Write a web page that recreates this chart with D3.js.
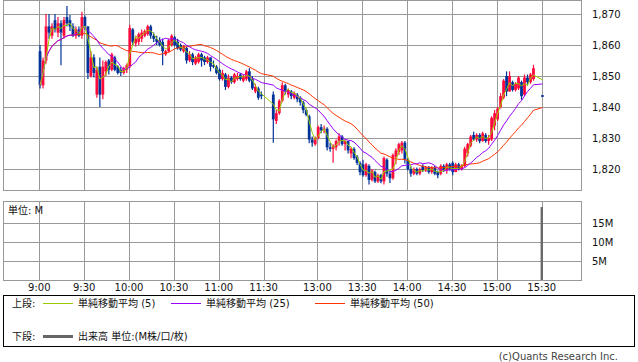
<!DOCTYPE html>
<html><head><meta charset="utf-8">
<script src="https://cdn.jsdelivr.net/npm/d3@7"></script>
<style>
body{margin:0;background:#fff}
svg{display:block}
text{font-family:"DejaVu Sans","Noto Sans CJK JP",sans-serif;font-size:10px;fill:#111}
</style></head><body>
<svg id="c" width="638" height="362"></svg>
<script>
// ---- data (2-minute bars, minutes since midnight) ----
const barTimes = [...d3.range(540, 690, 2), ...d3.range(750, 926, 2), 930];
const opens = [
1858,1847,1855,1866,1863,1868,1864,1867,1863,1869,
1868,1866,1863,1865,1863,1869,1866,1850,1856,1844,
1853,1844,1851.5,1855,1852,1856,1853,1852,1851,1852,
1853,1865,1860.5,1861,1862,1863,1863.5,1866,1863,1862,
1861.5,1861,1857,1858,1860,1862.5,1861,1860,1858,1859,
1855,1857,1854,1854.5,1857,1856,1854.5,1856,1853.5,1853,
1852,1849,1850.5,1846.5,1849.5,1848,1849,1850.5,1848.5,1849,
1851.5,1849,1845,1846,1844,
1844,1835.5,1838,1842,1847,1844,1845,1843,1844,1843,
1841.5,1839,1837,1829.5,1828,1830,1833.5,1832.5,1833,1827,
1826.5,1827,1829,1830.5,1828,1829,1825,1826.5,1824,1822,
1821.5,1818,1821,1816.5,1819,1816,1818,1816,1823,1818.5,
1817,1824,1825.5,1826,1828.5,1823,1820,1818.5,1820,1818.5,
1821,1819.5,1820.5,1819,1820.5,1819,1818.5,1821,1819.5,1821.5,
1822,1819,1821.5,1820,1821,1825,1827.5,1831,1829.5,1831,
1829,1831,1829,1829.5,1834,1836,1840,1843,1850,1845,
1848,1845.5,1846,1848,1844,1849.5,1848,1849,
1843.8];
const highs = [
1860,1856,1870,1870,1867,1870,1869,1868,1869,1872.6,
1869.7,1867,1866,1866,1870.7,1869.5,1866,1858,1857,1853,
1856,1855,1855,1855.5,1857.5,1856.5,1853.5,1853,1853,1854,
1866.5,1865.5,1863,1864,1865,1865,1866.5,1866.5,1864,1863,
1862.5,1862,1858.5,1862,1863.5,1863,1862,1860.5,1860,1859.5,
1858,1857.5,1856.5,1857.5,1857.5,1856.5,1856.5,1856,1855,1853.5,
1852.5,1852,1851,1850.5,1850,1851,1851,1851,1850.5,1852,
1852.5,1850,1847.5,1846.5,1845,
1845,1839,1842.5,1848,1847.5,1846,1845.5,1845,1844.5,1843.5,
1842,1839.5,1837.5,1830.5,1830.5,1834,1834.5,1834,1833.5,1828.5,
1828,1829.5,1831.5,1831,1829.5,1829,1827,1827,1824.5,1822.5,
1823,1822,1821.5,1820,1819.5,1818.5,1818.5,1824,1823.5,1819.5,
1825,1826.7,1828.5,1829,1829,1823.5,1821,1820.5,1820.5,1820.5,
1821.5,1821,1821,1821,1821,1819.5,1821.5,1821.5,1822,1822,
1822.5,1822,1822,1821.5,1827.2,1828.5,1831,1832,1831.5,1831.5,
1832,1831.5,1831,1837,1839,1840,1844.5,1849,1851.5,1851.5,
1848.5,1848,1850,1848.5,1850.5,1850.5,1851,1853.6,
1843.8];
const lows = [
1846,1846,1854,1862,1862,1864,1862.5,1853.5,1862,1866,
1864.5,1862.6,1862,1862.5,1862,1865,1849,1849.5,1849.5,1843,
1840,1842.5,1850,1850.5,1851.5,1851.5,1850.5,1850,1850.5,1851,
1852.5,1860,1859.5,1860,1861,1862.5,1863,1862,1861,1860,
1859.5,1853.5,1856.5,1857.5,1859.5,1859.5,1858.5,1858,1857.5,1854,
1854.5,1853.5,1853.5,1854,1853,1853.5,1854,1851.5,1852.5,1850.5,
1848.5,1848.5,1845.5,1846,1847.5,1847.5,1848.5,1848.5,1848,1848.5,
1848,1845.5,1844.4,1842.3,1842.5,
1828.5,1834.5,1837.5,1841.5,1844,1843,1842.5,1842.5,1841.5,1840.5,
1838,1837,1828.3,1827.2,1827.5,1829.5,1831.5,1831.5,1826,1825.6,
1822,1826,1827.5,1827.5,1826,1825,1823.5,1823,1821.3,1818,
1817.5,1817.5,1815,1816,1815.5,1815.5,1815.4,1815,1817.5,1815.5,
1816.5,1821.5,1824.5,1825,1821.8,1819.5,1817.5,1818,1818,1818,
1819,1819,1818.5,1818.5,1818,1817,1818,1819,1818.5,1819.5,
1818,1819,1819.5,1819.5,1820.5,1824,1827,1829,1828.8,1828.3,
1828.8,1828.5,1827.8,1829,1832.5,1835.5,1839.5,1842.5,1843.5,1845,
1845,1845,1845.5,1842.3,1843.5,1847,1847.5,1848.5,
1843.3];
const closes = [
1847,1855,1866,1864,1866,1865,1867,1864,1868,1867,
1866,1863,1865,1863,1869,1866,1851,1856,1851,1852,
1844,1853,1854.5,1852,1857,1852,1851,1851,1852.5,1853.5,
1865.5,1861,1862,1863.5,1864,1864.5,1866,1863,1862,1861,
1860,1858,1858,1861.5,1863,1860,1859,1858.5,1859.5,1855,
1857,1854.5,1856,1857,1855,1854.5,1856,1853,1853,1851,
1849,1851,1846.5,1849.5,1848,1850.5,1850,1849,1850,1851.5,
1848.5,1846,1846.5,1843,1843.5,
1836,1838,1842,1847,1845,1845.5,1843.5,1844.5,1842.5,1841.5,
1839,1837.5,1829.5,1828.5,1830,1833.5,1832.5,1833,1827,1826.5,
1827.5,1829,1830.5,1828,1829,1826,1826.5,1823.5,1822,1819,
1818,1821.5,1816.5,1819.5,1816,1818,1816,1823.5,1818.5,1817,
1824.5,1826,1828,1828.5,1823,1820,1818.5,1820,1818.5,1820,
1819.5,1820.5,1819,1820.5,1818.5,1818,1821,1819.5,1821.5,1820,
1819,1821.5,1820,1821,1826.5,1828,1830.5,1829.5,1831,1829,
1831.5,1829,1830,1836.5,1838,1839.5,1843.5,1848.5,1845,1850,
1845.5,1847.5,1849.5,1843.5,1849.5,1848,1850.5,1852.5,
1843.3];
const volTimes = [930];
const volValues = [19.3]; // M
const maPeriods = [5, 25, 50]; // minutes
const maColors = ["#99cc00", "#9900ff", "#ff3300"];
const priceTicks = [1820, 1830, 1840, 1850, 1860, 1870];
const volTicks = [5, 10, 15];
const timeTicks = [540, 570, 600, 630, 660, 690, 780, 810, 840, 870, 900, 930];

// ---- helpers ----
const sess = t => t <= 690 ? t - 540 : t - 750 + 156;
const fmtTime = t => Math.floor(t / 60) + ":" + String(t % 60).padStart(2, "0");
const svg = d3.select("#c");
const x = d3.scaleLinear().domain([0, 336]).range([39.3, 541.7]);
const y = d3.scaleLinear().domain([1820, 1870]).range([169, 14]);
const yv = d3.scaleLinear().domain([0, 20]).range([280, 204.4]);
const L = 3.5, R = 581.5;
const grid = "#999";

// ---- grids & frames ----
const g = svg.append("g").attr("shape-rendering", "crispEdges");
priceTicks.forEach(p => g.append("line").attr("x1", L).attr("x2", R)
  .attr("y1", Math.round(y(p)) + 0.5).attr("y2", Math.round(y(p)) + 0.5).attr("stroke", grid));
volTicks.forEach(v => g.append("line").attr("x1", L).attr("x2", R)
  .attr("y1", Math.round(yv(v)) + 0.5).attr("y2", Math.round(yv(v)) + 0.5).attr("stroke", grid));
timeTicks.forEach(t => {
  const xx = Math.round(x(sess(t))) + 0.5;
  g.append("line").attr("x1", xx).attr("x2", xx).attr("y1", 0).attr("y2", 190).attr("stroke", grid);
  g.append("line").attr("x1", xx).attr("x2", xx).attr("y1", 201).attr("y2", 280).attr("stroke", grid);
});
g.append("rect").attr("x", L).attr("y", 0.5).attr("width", R - L).attr("height", 190).attr("fill", "none").attr("stroke", grid);
g.append("rect").attr("x", L).attr("y", 201.5).attr("width", R - L).attr("height", 79).attr("fill", "none").attr("stroke", grid);

// ---- candles ----
const bars = barTimes.map((t, i) => ({t, o: opens[i], h: highs[i], l: lows[i], c: closes[i]}));
const cx = d => x(sess(d.t) + 0.5);
const up = "#ff0a3c", dn = "#003399";
const cg = svg.append("g");
cg.selectAll("line.w").data(bars).join("line")
  .attr("x1", cx).attr("x2", cx).attr("y1", d => y(d.h)).attr("y2", d => y(d.l))
  .attr("stroke", d => d.c >= d.o ? up : dn).attr("stroke-width", 1.2);
cg.selectAll("rect").data(bars).join("rect")
  .attr("x", d => cx(d) - 1.4).attr("width", 2.8)
  .attr("y", d => y(Math.max(d.o, d.c)))
  .attr("height", d => Math.max(1, Math.abs(y(d.o) - y(d.c))))
  .attr("fill", d => d.c >= d.o ? up : dn);

// ---- moving averages ----
const barMin = 2;
const sma = (arr, n) => arr.map((v, i) => d3.mean(arr.slice(Math.max(0, i - n + 1), i + 1)));
[2, 1, 0].forEach(k => {
  const n = Math.round(maPeriods[k] / barMin + 0.01);
  const ma = sma(closes, n);
  svg.append("path").datum(bars.map((b, i) => [cx(b), y(ma[i])]))
    .attr("d", d3.line()).attr("fill", "none").attr("stroke", maColors[k]).attr("stroke-width", 1);
});

// ---- volume ----
svg.selectAll("rect.v").data(volTimes).join("rect").attr("class", "v")
  .attr("x", (t) => x(sess(t)) - 1.1).attr("width", 2.3)
  .attr("y", (t, i) => yv(volValues[i])).attr("height", (t, i) => yv(0) - yv(volValues[i]))
  .attr("fill", "#666");

// ---- labels ----
const fmtP = d3.format(",");
priceTicks.forEach(p => svg.append("text").attr("x", 592).attr("y", y(p)).attr("dy", "0.35em").text(fmtP(p)));
volTicks.forEach(v => svg.append("text").attr("x", 592).attr("y", yv(v)).attr("dy", "0.35em").text(v + "M"));
timeTicks.forEach(t => svg.append("text").attr("x", x(sess(t))).attr("y", 287).attr("dy", "0.35em")
  .attr("text-anchor", "middle").text(fmtTime(t)));
svg.append("text").attr("x", 8).attr("y", 210).attr("dy", "0.35em").text("単位: M");

// ---- legend ----
svg.append("rect").attr("x", 3.5).attr("y", 295.5).attr("width", 631).attr("height", 51)
  .attr("fill", "none").attr("stroke", "#000").attr("shape-rendering", "crispEdges");
svg.append("text").attr("x", 12).attr("y", 303).attr("dy", "0.35em").text("上段:");
const legX = [43, 171, 315];
maPeriods.forEach((p, k) => {
  svg.append("line").attr("x1", legX[k]).attr("x2", legX[k] + 30).attr("y1", 303.5).attr("y2", 303.5)
    .attr("stroke", maColors[k]).attr("stroke-width", 1);
  svg.append("text").attr("x", legX[k] + 35).attr("y", 303).attr("dy", "0.35em").text("単純移動平均 (" + p + ")");
});
svg.append("text").attr("x", 12).attr("y", 336).attr("dy", "0.35em").text("下段:");
svg.append("line").attr("x1", 43).attr("x2", 73).attr("y1", 336.5).attr("y2", 336.5).attr("stroke", "#666").attr("stroke-width", 3);
svg.append("text").attr("x", 78).attr("y", 336).attr("dy", "0.35em").text("出来高 単位:(M株/口/枚)");
svg.append("text").attr("x", 618).attr("y", 356).attr("dy", "0.35em").attr("text-anchor", "end")
  .style("fill", "#444").text("(c)Quants Research Inc.");
</script>
</body></html>
